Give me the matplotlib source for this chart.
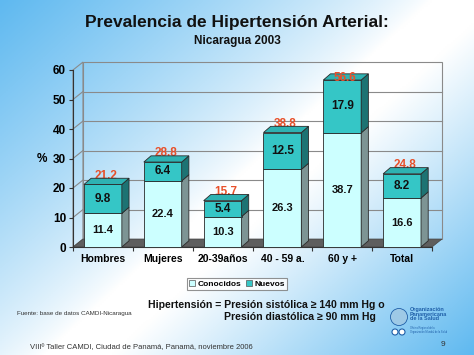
import numpy as np
import matplotlib
matplotlib.use('Agg')
import matplotlib.pyplot as plt
from matplotlib.patches import Polygon, Rectangle, Patch, Circle

plt.rcParams['font.family'] = ['Liberation Sans', 'DejaVu Sans']

categorias = ['Hombres', 'Mujeres', '20-39años', '40 - 59 a.', '60 y +', 'Total']
conocidos = [11.4, 22.4, 10.3, 26.3, 38.7, 16.6]
nuevos = [9.8, 6.4, 5.4, 12.5, 17.9, 8.2]
totales = [21.2, 28.8, 15.7, 38.8, 56.6, 24.8]
yticks = [0, 10, 20, 30, 40, 50, 60]

W, H = 474, 355
fig = plt.figure(figsize=(W / 100, H / 100), dpi=100)

# fondo degradado azul-blanco
bg = fig.add_axes([0, 0, 1, 1], zorder=-10)
u, v = np.meshgrid(np.linspace(0, 1, 240), np.linspace(0, 1, 180))
d = (u * 1.1 + v * 0.9) / 2
b = np.clip(1 - d / 0.5, 0, 1) ** 0.8 + np.clip((d - 0.58) / 0.42, 0, 1) ** 1.0
b = np.clip(b, 0, 1)
azul = np.array([95, 185, 240]) / 255
img = 1 - b[..., None] * (1 - azul)
bg.imshow(img, aspect='auto', extent=[0, 1, 0, 1], origin='upper')
bg.set_axis_off()

ax = fig.add_axes([73 / W, 1 - 247 / H, 359 / W, 177 / H])
ax.set_xlim(0, 6)
ax.set_ylim(0, 60)
ax.patch.set_alpha(0)

dxw, dyw = 0.167, 2.7   # profundidad de las paredes
dxb, dyb = 0.12, 2.1    # profundidad de las barras
ancho = 0.633
gris = '#8a8a8a'

# paredes y piso
ax.add_patch(Rectangle((dxw, dyw), 6, 60, facecolor='none', edgecolor=gris, lw=0.8, zorder=0.5, clip_on=False))
ax.add_patch(Polygon([(0, 0), (dxw, dyw), (dxw, 60 + dyw), (0, 60)], closed=True,
                     facecolor='none', edgecolor=gris, lw=0.8, zorder=0.5, clip_on=False))
for y in yticks[1:-1]:
    ax.plot([dxw, 6 + dxw], [y + dyw, y + dyw], color=gris, lw=0.8, zorder=0.6, clip_on=False)
    ax.plot([0, dxw], [y, y + dyw], color=gris, lw=0.8, zorder=0.6, clip_on=False)
ax.add_patch(Polygon([(0, 0), (6, 0), (6 + dxw, dyw), (dxw, dyw)], closed=True,
                     facecolor='#5e5e5e', edgecolor='#444444', lw=0.5, zorder=0.7, clip_on=False))

def barra3d(x0, base, alto, frente, lado, arriba=None):
    x1 = x0 + ancho
    ax.add_patch(Rectangle((x0, base), ancho, alto, facecolor=frente, edgecolor='#2a2a2a', lw=0.6, zorder=3, clip_on=False))
    ax.add_patch(Polygon([(x1, base), (x1 + dxb, base + dyb), (x1 + dxb, base + alto + dyb), (x1, base + alto)],
                         closed=True, facecolor=lado, edgecolor='#2a2a2a', lw=0.6, zorder=3, clip_on=False))
    if arriba:
        t = base + alto
        ax.add_patch(Polygon([(x0, t), (x0 + dxb, t + dyb), (x1 + dxb, t + dyb), (x1, t)],
                             closed=True, facecolor=arriba, edgecolor='#2a2a2a', lw=0.6, zorder=3, clip_on=False))

for i in range(len(categorias)):
    x0 = i + 0.5 - ancho / 2
    barra3d(x0, 0, conocidos[i], '#ccffff', '#7d9494')
    barra3d(x0, conocidos[i], nuevos[i], '#35c6c6', '#1d7373', '#2eb2b2')
    ax.text(i + 0.5, conocidos[i] / 2, f'{conocidos[i]}', ha='center', va='center',
            fontsize=8, fontweight='bold', color='#111111', zorder=4)
    ax.text(i + 0.5, conocidos[i] + nuevos[i] / 2, f'{nuevos[i]}', ha='center', va='center',
            fontsize=8.5, fontweight='bold', color='#111111', zorder=4)
    ytot = totales[i] + 2.9
    z = 2.5
    if ytot > 58:
        # la etiqueta queda encima de la cara superior
        ytot, z = totales[i] + 0.6, 4
    ax.text(i + 0.5 + 0.05, ytot, f'{totales[i]}', ha='center', va='center',
            fontsize=8.5, fontweight='bold', color='#e8502a', zorder=z, clip_on=False)

for s in ['top', 'right']:
    ax.spines[s].set_visible(False)
ax.spines['left'].set_color('#333333')
ax.spines['bottom'].set_color('#333333')
ax.spines['left'].set_zorder(1)
ax.set_yticks(yticks)
ax.set_yticklabels([str(t) for t in yticks], fontsize=8.5, fontweight='bold')
ax.set_xticks(range(7))
ax.set_xticklabels([])
ax.set_xticks(np.arange(6) + 0.5, minor=True)
ax.set_xticklabels(categorias, minor=True, fontsize=7.5, fontweight='bold')
ax.tick_params(axis='x', which='minor', length=0, pad=5)
ax.tick_params(axis='x', which='major', length=3, direction='out', color='#333333')
ax.tick_params(axis='y', length=3, direction='out', color='#333333', pad=2)
ax.text(-0.52, 30, '%', ha='center', va='center', fontsize=8.5, fontweight='bold')

# leyenda
handles = [Patch(facecolor='#ccffff', edgecolor='#555555', lw=0.5, label='Conocidos'),
           Patch(facecolor='#35c6c6', edgecolor='#555555', lw=0.5, label='Nuevos')]
leg = fig.legend(handles=handles, loc='center', bbox_to_anchor=(237 / W, 1 - 284 / H), ncol=2,
                 prop={'size': 6, 'weight': 'bold'}, frameon=True, fancybox=False, edgecolor='#777777',
                 handlelength=0.7, handleheight=0.7, handletextpad=0.3, columnspacing=0.5,
                 borderpad=0.3, borderaxespad=0)
leg.get_frame().set_linewidth(0.8)

# titulos
fig.text(237 / W, 1 - 22 / H, 'Prevalencia de Hipertensión Arterial:', ha='center', va='center',
         fontsize=12.5, fontweight='bold', color='#111111')
fig.text(237 / W, 1 - 41 / H, 'Nicaragua 2003', ha='center', va='center',
         fontsize=8.5, fontweight='bold', color='#111111')

# textos inferiores
fig.text(148 / W, 1 - 305 / H, 'Hipertensión = Presión sistólica ≥ 140 mm Hg o', ha='left', va='center',
         fontsize=7.6, fontweight='bold', color='#111111')
fig.text(376 / W, 1 - 317 / H, 'Presión diastólica ≥ 90 mm Hg', ha='right', va='center',
         fontsize=7.6, fontweight='bold', color='#111111')
fig.text(17 / W, 1 - 314 / H, 'Fuente: base de datos CAMDI-Nicaragua', ha='left', va='center',
         fontsize=4.5, color='#333333')
fig.text(30 / W, 1 - 348 / H, 'VIIIº Taller CAMDI, Ciudad de Panamá, Panamá, noviembre 2006', ha='left', va='center',
         fontsize=5.5, color='#333333')
fig.text(443 / W, 1 - 344 / H, '9', ha='center', va='center', fontsize=6, color='#333333')

# logo OPS aproximado
fig.text(410 / W, 1 - 314 / H, 'Organización\nPanamericana\nde la Salud', ha='left', va='center',
         fontsize=4.0, fontweight='bold', color='#1f5fa8', linespacing=1.0)
fig.text(410 / W, 1 - 330 / H, 'Oficina Regional de la\nOrganización Mundial de la Salud', ha='left', va='center',
         fontsize=1.8, color='#1f5fa8', linespacing=1.0)
lg = fig.add_axes([389 / W, 1 - 336 / H, 20 / W, 30 / H])
lg.set_xlim(0, 20)
lg.set_ylim(0, 30)
lg.set_axis_off()
lg.add_patch(Circle((10, 19), 8.5, facecolor='#9ec9e6', edgecolor='#1f5fa8', lw=0.6))
lg.add_patch(Circle((6, 4), 3, facecolor='white', edgecolor='#1f5fa8', lw=0.8))
lg.add_patch(Circle((13, 4), 3, facecolor='white', edgecolor='#1f5fa8', lw=0.8))

fig.savefig('out.png', dpi=100)
